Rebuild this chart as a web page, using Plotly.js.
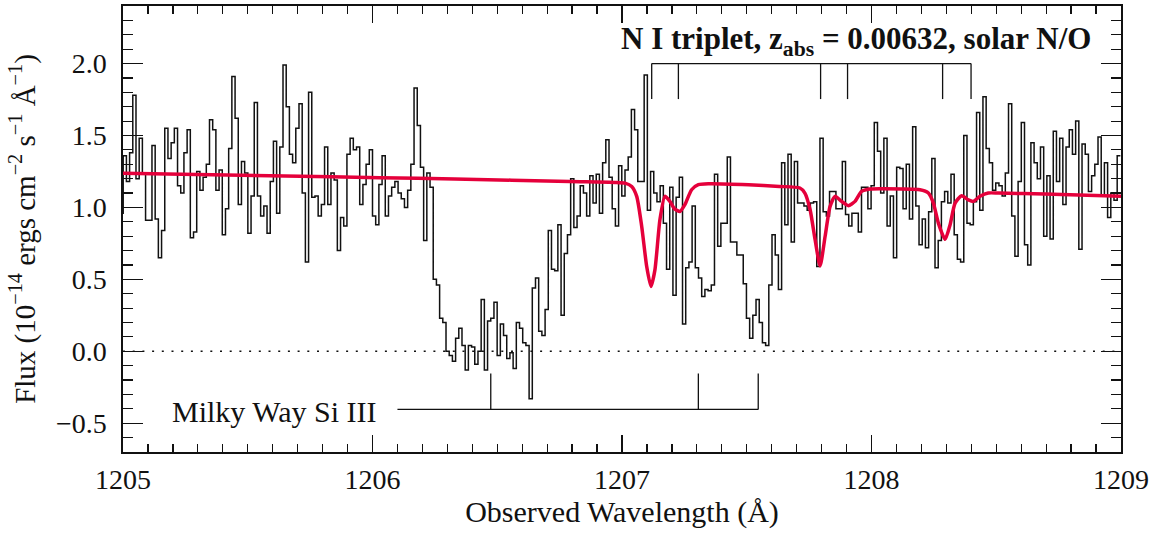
<!DOCTYPE html>
<html>
<head>
<meta charset="utf-8">
<script src="https://cdn.plot.ly/plotly-3.0.1.min.js"></script>
<style>html,body{margin:0;padding:0;background:#fff;}#chart{width:1156px;height:533px;}</style>
</head>
<body>
<div id="chart"></div>
<script>
// Observed flux per spectral bin (10^-14 ergs cm^-2 s^-1 A^-1)
const fluxValues = [
 0.96,1.36,1.18,1.38,1.78,1.20,1.48,1.24,0.91,0.91,
 1.43,0.92,0.65,0.84,1.55,1.34,1.45,1.55,1.15,1.10,
 1.38,1.54,0.79,0.83,1.25,1.12,1.21,1.30,1.61,1.54,
 1.12,1.26,0.81,0.99,1.41,1.91,1.62,1.02,1.32,1.24,
 0.82,1.08,1.73,1.08,0.94,1.01,0.82,1.18,1.46,0.96,
 1.42,1.99,1.70,1.37,1.31,1.55,1.72,1.10,0.62,1.80,
 1.07,1.08,0.94,1.02,1.42,1.02,1.24,1.19,0.70,0.93,
 0.87,1.37,1.48,1.40,1.42,1.02,1.16,1.30,1.40,0.94,
 0.88,1.16,1.36,0.94,1.08,1.14,1.18,1.10,1.06,1.00,
 1.12,1.30,1.83,1.57,1.28,0.77,1.24,1.14,0.50,0.46,
 0.23,0.20,0.00,-0.03,-0.07,0.09,0.16,0.04,-0.13,0.04,
 0.03,-0.09,0.00,0.36,-0.13,0.21,0.23,0.34,-0.03,0.19,
 0.11,-0.05,-0.01,-0.12,0.20,0.16,0.06,0.04,-0.33,0.44,
 0.51,0.14,0.11,0.29,0.84,0.57,0.56,0.88,0.25,0.68,
 0.81,1.20,0.86,0.94,1.15,1.10,0.94,1.22,1.03,1.23,
 0.96,1.31,1.47,1.21,0.99,0.87,1.29,1.08,1.26,1.35,
 1.68,1.54,1.18,1.18,1.92,0.98,1.25,1.10,1.04,1.15,
 0.89,0.57,1.14,0.39,1.07,1.21,0.19,0.58,0.62,1.01,
 0.58,0.51,0.38,0.43,0.42,0.46,1.23,0.73,0.89,0.89,
 1.35,0.76,0.76,0.67,0.67,0.47,0.23,0.09,0.25,0.36,
 0.20,0.06,0.04,0.46,0.81,0.67,0.43,1.31,0.88,1.37,
 0.76,1.32,1.03,1.03,1.01,0.98,1.03,1.04,0.59,1.48,
 0.97,0.94,1.11,1.11,0.99,0.99,1.32,0.95,0.87,0.96,
 0.96,0.83,1.14,1.14,0.99,1.15,1.59,1.39,1.10,1.48,
 0.87,1.08,0.65,1.28,1.27,0.99,1.30,0.92,1.56,1.01,
 0.74,0.92,0.72,0.97,1.34,0.58,0.77,1.04,1.11,1.03,
 1.23,0.81,0.64,0.62,1.50,0.89,0.88,1.04,1.66,0.98,
 1.77,1.41,1.31,1.12,1.17,1.15,1.08,1.24,1.72,0.94,
 0.66,1.18,1.59,0.74,0.60,1.45,1.31,1.20,1.42,0.80,
 1.22,0.78,1.53,1.18,1.48,1.02,1.42,1.54,1.37,1.60,
 0.71,1.44,1.37,1.11,1.22,1.30,1.49,1.08,1.31,0.93,
 1.10,1.05,1.36
];
// Wavelength grid of the spectrum (left edge of first bin, bin width), in Angstrom
const waveStart = 1204.988;
const binWidth = 0.01281;

// Model (red) profile: wavelength (A) and flux
const modelWave = [1205.000,1205.650,1206.030,1206.330,1206.790,1206.972,1207.012,1207.039,1207.059,1207.079,
 1207.099,1207.116,1207.132,1207.152,1207.172,1207.192,1207.212,1207.232,1207.252,1207.279,
 1207.306,1207.346,1207.507,1207.631,1207.713,1207.733,1207.754,1207.774,1207.794,1207.814,
 1207.834,1207.854,1207.880,1207.907,1207.934,1207.960,1207.994,1208.034,1208.194,1208.228,
 1208.248,1208.268,1208.295,1208.315,1208.335,1208.361,1208.388,1208.408,1208.435,1208.468,
 1208.508,1208.695,1209.000];
const modelFlux = [1.237,1.219,1.207,1.198,1.180,1.174,1.169,1.146,1.077,0.868,
 0.589,0.450,0.566,0.914,1.077,1.042,0.988,0.972,1.019,1.123,
 1.158,1.165,1.158,1.146,1.135,1.100,0.984,0.775,0.594,0.798,
 1.007,1.077,1.042,1.012,1.042,1.111,1.128,1.130,1.123,1.100,
 1.030,0.891,0.778,0.880,1.030,1.081,1.053,1.042,1.077,1.100,
 1.100,1.093,1.077];

// Line identifications
const niLineWaves = [1207.119,1207.226,1207.796,1207.904,1208.285,1208.399];
const niBarFlux = 2.0, niTickFlux = 1.753;
const siLineWaves = [1206.474,1207.306,1207.546];
const siBarStart = 1206.10, siBarFlux = -0.404, siTickFlux = -0.155;

const titleText = '<b>N I triplet, z<sub>abs</sub> = 0.00632, solar N/O</b>';
const siLabel = 'Milky Way Si III';
const xTitle = 'Observed Wavelength (Å)';
const yTitle = 'Flux (10<sup>−14</sup> ergs cm<sup>−2</sup> s<sup>−1</sup> Å<sup>−1</sup>)';

const edges = fluxValues.map((_, i) => waveStart + i * binWidth);
const stepX = edges.concat([waveStart + fluxValues.length * binWidth]);
const stepY = fluxValues.concat([fluxValues[fluxValues.length - 1]]);

const traces = [
  {x: stepX, y: stepY, type: 'scatter', mode: 'lines',
   line: {shape: 'hv', color: '#111', width: 1.5}, hoverinfo: 'skip'},
  {x: modelWave, y: modelFlux, type: 'scatter', mode: 'lines',
   line: {shape: 'spline', smoothing: 0.6, color: '#e5003b', width: 3.5}, hoverinfo: 'skip'}
];

const lineStyle = {color: '#111', width: 1.3};
const shapes = [];
// zero level
shapes.push({type: 'line', xref: 'paper', x0: 0, x1: 1, yref: 'y', y0: 0, y1: 0,
  line: {color: '#111', width: 1.6, dash: '2px,7.7px'}});
// N I bracket
shapes.push({type: 'line', xref: 'x', yref: 'y', x0: niLineWaves[0], x1: niLineWaves[niLineWaves.length - 1],
  y0: niBarFlux, y1: niBarFlux, line: lineStyle});
niLineWaves.forEach(w => shapes.push({type: 'line', xref: 'x', yref: 'y', x0: w, x1: w,
  y0: niBarFlux, y1: niTickFlux, line: lineStyle}));
// Si III bracket
shapes.push({type: 'line', xref: 'x', yref: 'y', x0: siBarStart, x1: siLineWaves[siLineWaves.length - 1],
  y0: siBarFlux, y1: siBarFlux, line: lineStyle});
siLineWaves.forEach(w => shapes.push({type: 'line', xref: 'x', yref: 'y', x0: w, x1: w,
  y0: siBarFlux, y1: siTickFlux, line: lineStyle}));

const fontFam = 'Liberation Serif, serif';
const axisCommon = {
  showline: true, linewidth: 1.6, linecolor: '#111', mirror: 'allticks',
  ticks: 'inside', tickwidth: 1.3, tickcolor: '#111',
  showgrid: false, zeroline: false, automargin: false,
  tickfont: {family: fontFam, size: 28, color: '#111'}
};

const layout = {
  width: 1156, height: 533,
  margin: {l: 123, r: 35, t: 6, b: 81, pad: 0},
  paper_bgcolor: '#fff', plot_bgcolor: '#fff',
  font: {family: fontFam, size: 26, color: '#111'},
  showlegend: false,
  xaxis: Object.assign({}, axisCommon, {
    range: [1205, 1209], tick0: 1205, dtick: 1, ticklen: 17, ticklabelstandoff: 2,
    minor: {dtick: 0.1, ticks: 'inside', ticklen: 8, tickwidth: 1.2, tickcolor: '#111', showgrid: false},
    title: {text: xTitle, font: {family: fontFam, size: 30, color: '#111'}, standoff: 2}
  }),
  yaxis: Object.assign({}, axisCommon, {
    range: [-0.70, 2.40], tick0: 0, dtick: 0.5, tickformat: '.1f', ticklen: 20, ticklabelstandoff: 9,
    minor: {dtick: 0.1, ticks: 'inside', ticklen: 10, tickwidth: 1.2, tickcolor: '#111', showgrid: false},
    title: {text: yTitle, font: {family: fontFam, size: 29, color: '#111'}, standoff: 12}
  }),
  shapes: shapes,
  annotations: [
    {text: titleText, xref: 'paper', yref: 'paper', x: 0.7345, y: 0.922, xanchor: 'center', yanchor: 'middle',
     showarrow: false, font: {family: fontFam, size: 31, color: '#111'}},
    {text: siLabel, xref: 'x', yref: 'y', x: 1206.026, y: -0.417, xanchor: 'right', yanchor: 'middle',
     showarrow: false, font: {family: fontFam, size: 30, color: '#111'}}
  ]
};

Plotly.newPlot('chart', traces, layout, {staticPlot: true, displayModeBar: false});
</script>
</body>
</html>
